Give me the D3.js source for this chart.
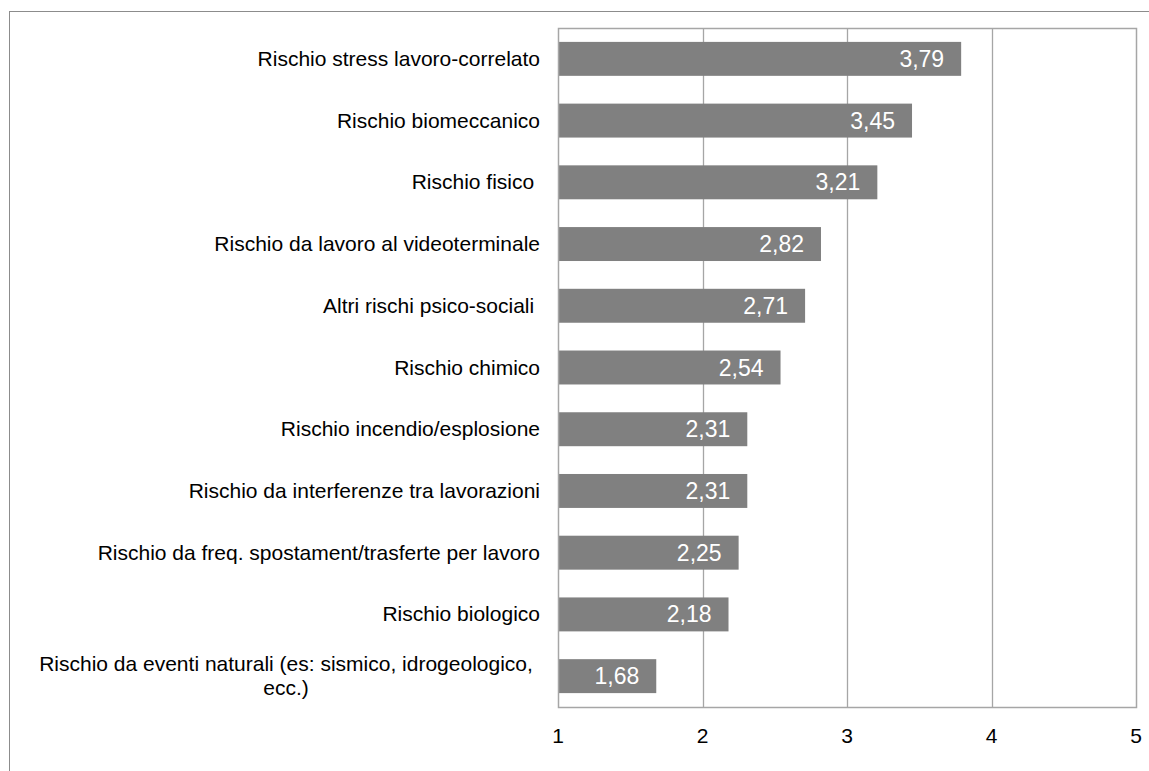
<!DOCTYPE html>
<html>
<head>
<meta charset="utf-8">
<script src="https://cdn.jsdelivr.net/npm/d3@7"></script>
<style>
  html, body { margin: 0; padding: 0; background: #fff; }
  svg { display: block; }
  text { font-family: "Liberation Sans", Arial, sans-serif; }
</style>
</head>
<body>
<svg id="chart" width="1149" height="771"></svg>
<script>
// Risk categories (top to bottom) and their average scores
const categories = [
  "Rischio stress lavoro-correlato",
  "Rischio biomeccanico",
  "Rischio fisico ",
  "Rischio da lavoro al videoterminale",
  "Altri rischi psico-sociali ",
  "Rischio chimico",
  "Rischio incendio/esplosione",
  "Rischio da interferenze tra lavorazioni",
  "Rischio da freq. spostament/trasferte per lavoro",
  "Rischio biologico",
  "Rischio da eventi naturali (es: sismico, idrogeologico,\necc.)"
];
const values = [3.79, 3.45, 3.21, 2.82, 2.71, 2.54, 2.31, 2.31, 2.25, 2.18, 1.68];
const xTicks = [1, 2, 3, 4, 5];

const svg = d3.select("#chart");
const plot = { left: 558, right: 1136, top: 28, bottom: 707 };
const lineColor = "#a6a6a6";

// outer chart frame
svg.append("rect")
  .attr("x", 9.5).attr("y", 11.5)
  .attr("width", 1160).attr("height", 800)
  .attr("fill", "none").attr("stroke", "#8c8c8c").attr("stroke-width", 1);

const x = d3.scaleLinear().domain([1, 5]).range([plot.left, plot.right]);
const y = d3.scaleBand().domain(categories).range([plot.top, plot.bottom]).paddingInner(0.45).paddingOuter(0.225);

// vertical gridlines
svg.append("g").selectAll("line")
  .data(xTicks.slice(1, -1))
  .join("line")
  .attr("x1", d => Math.round(x(d)) + 0.5).attr("x2", d => Math.round(x(d)) + 0.5)
  .attr("y1", plot.top).attr("y2", plot.bottom)
  .attr("stroke", lineColor).attr("stroke-width", 1.3);

// bars
svg.append("g").selectAll("rect")
  .data(values)
  .join("rect")
  .attr("x", x(1))
  .attr("y", (d, i) => y(categories[i]))
  .attr("width", d => x(d) - x(1))
  .attr("height", y.bandwidth())
  .attr("fill", "#808080");

// plot area border
svg.append("rect")
  .attr("x", plot.left + 0.5).attr("y", plot.top + 0.5)
  .attr("width", plot.right - plot.left).attr("height", plot.bottom - plot.top)
  .attr("fill", "none").attr("stroke", lineColor).attr("stroke-width", 1.5);

// value labels inside the bar ends
svg.append("g").selectAll("text")
  .data(values)
  .join("text")
  .attr("x", d => x(d) - 17)
  .attr("y", (d, i) => y(categories[i]) + y.bandwidth() / 2 + 8)
  .attr("text-anchor", "end")
  .attr("font-size", 23)
  .attr("fill", "#ffffff")
  .text(d => d.toFixed(2).replace(".", ","));

// category labels
const catG = svg.append("g");
categories.forEach((c, i) => {
  const lines = c.split("\n");
  const cy = y(c) + y.bandwidth() / 2;
  if (lines.length === 1) {
    catG.append("text")
      .attr("x", 540)
      .attr("y", cy + 7)
      .attr("text-anchor", "end")
      .attr("font-size", 21)
      .attr("fill", "#000")
      .style("white-space", "pre")
      .text(c);
  } else {
    const t = catG.append("text")
      .attr("text-anchor", "middle")
      .attr("font-size", 21)
      .attr("fill", "#000");
    const lh = 23.5;
    lines.forEach((ln, k) => {
      t.append("tspan")
        .attr("x", 286)
        .attr("y", cy + 7 - lh / 2 + k * lh)
        .text(ln);
    });
  }
});

// x axis tick labels
svg.append("g").selectAll("text")
  .data(xTicks)
  .join("text")
  .attr("x", d => x(d))
  .attr("y", 743)
  .attr("text-anchor", "middle")
  .attr("font-size", 21)
  .attr("fill", "#000")
  .text(d => d);
</script>
</body>
</html>
